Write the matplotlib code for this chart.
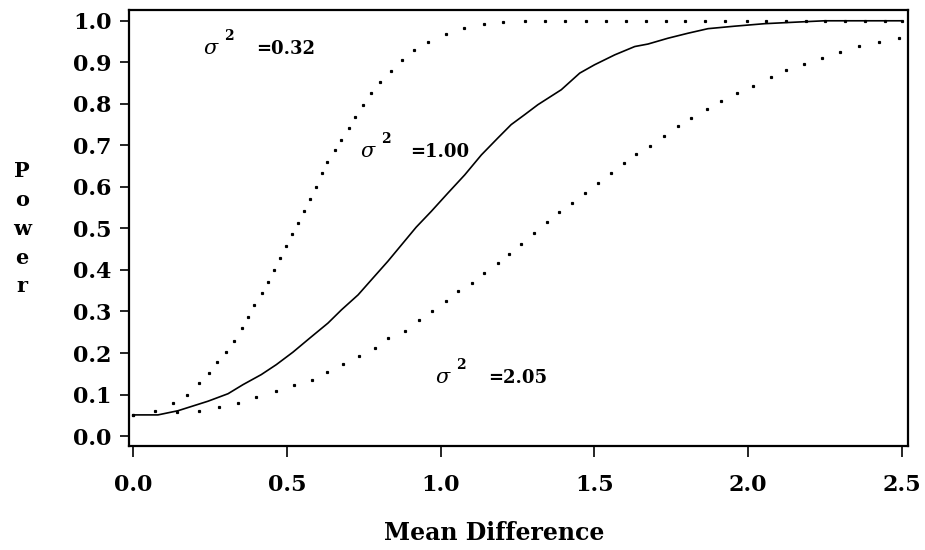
import numpy as np
import matplotlib
matplotlib.use("Agg")
import matplotlib.pyplot as plt

plt.rcParams['font.family'] = ['DejaVu Serif']
plt.rcParams['mathtext.fontset'] = 'dejavuserif'

# power curves, sigma^2 = 1.00 (solid)
x_s100 = [0.0, 0.080, 0.145, 0.243, 0.308, 0.357, 0.416, 0.465, 0.519, 0.574,
          0.633, 0.677, 0.731, 0.774, 0.828, 0.920, 0.969, 1.023, 1.078, 1.132,
          1.186, 1.229, 1.273, 1.316, 1.392, 1.452, 1.500, 1.566, 1.631, 1.674,
          1.739, 1.804, 1.869, 1.956, 2.053, 2.162, 2.248, 2.498]
p_s100 = [0.051, 0.051, 0.061, 0.084, 0.102, 0.124, 0.148, 0.172, 0.202, 0.236,
          0.272, 0.304, 0.340, 0.376, 0.421, 0.503, 0.541, 0.585, 0.629, 0.677,
          0.718, 0.750, 0.774, 0.798, 0.834, 0.874, 0.894, 0.918, 0.938, 0.944,
          0.958, 0.970, 0.981, 0.987, 0.993, 0.997, 1.000, 1.000]

# sigma^2 = 0.32 (dotted, steep)
x_s032 = [0.0, 0.070, 0.129, 0.175, 0.213, 0.245, 0.271, 0.302, 0.328, 0.353,
          0.374, 0.393, 0.419, 0.438, 0.458, 0.477, 0.497, 0.515, 0.535, 0.554,
          0.574, 0.593, 0.613, 0.631, 0.657, 0.676, 0.702, 0.722, 0.748, 0.773,
          0.801, 0.837, 0.875, 0.914, 0.959, 1.018, 1.076, 1.141, 1.202, 1.275,
          1.338, 1.403, 1.474, 1.539, 1.604, 1.669, 1.731, 1.796, 1.861, 1.925,
          1.995, 2.059, 2.122, 2.188, 2.250, 2.315, 2.380, 2.445, 2.500]
p_s032 = [0.050, 0.061, 0.080, 0.099, 0.127, 0.151, 0.178, 0.202, 0.230, 0.260,
          0.287, 0.315, 0.344, 0.372, 0.400, 0.429, 0.457, 0.486, 0.514, 0.542,
          0.571, 0.599, 0.633, 0.660, 0.689, 0.713, 0.741, 0.769, 0.798, 0.826,
          0.852, 0.878, 0.906, 0.930, 0.949, 0.968, 0.982, 0.992, 0.996, 1.000,
          1.000, 1.000, 1.000, 1.000, 1.000, 1.000, 1.000, 1.000, 1.000, 1.000,
          1.000, 1.000, 1.000, 1.000, 1.000, 1.000, 1.000, 1.000, 1.000]

# sigma^2 = 2.05 (dotted, shallow)
x_s205 = [0.0, 0.143, 0.213, 0.278, 0.341, 0.400, 0.464, 0.522, 0.580, 0.631,
          0.683, 0.735, 0.786, 0.828, 0.883, 0.928, 0.972, 1.018, 1.056, 1.101,
          1.141, 1.185, 1.223, 1.262, 1.303, 1.345, 1.384, 1.428, 1.468, 1.511,
          1.553, 1.596, 1.635, 1.681, 1.725, 1.771, 1.815, 1.867, 1.912, 1.963,
          2.015, 2.073, 2.124, 2.182, 2.240, 2.300, 2.362, 2.427, 2.491]
p_s205 = [0.050, 0.057, 0.061, 0.070, 0.080, 0.094, 0.108, 0.122, 0.136, 0.155,
          0.174, 0.193, 0.212, 0.236, 0.254, 0.279, 0.302, 0.326, 0.349, 0.368,
          0.392, 0.416, 0.439, 0.463, 0.489, 0.515, 0.539, 0.562, 0.585, 0.609,
          0.633, 0.657, 0.680, 0.698, 0.722, 0.746, 0.765, 0.788, 0.807, 0.825,
          0.844, 0.864, 0.882, 0.896, 0.910, 0.925, 0.939, 0.949, 0.958]

# curve labels: sigma position, "=value" position, text
lab_text = ["=0.32", "=1.00", "=2.05"]
lab_sig_x = [0.227, 0.737, 0.981]
lab_eq_x = [0.399, 0.900, 1.153]
lab_y = [0.920, 0.672, 0.128]

x_ticks = [0.0, 0.5, 1.0, 1.5, 2.0, 2.5]
y_ticks = [0.0, 0.1, 0.2, 0.3, 0.4, 0.5, 0.6, 0.7, 0.8, 0.9, 1.0]

fig = plt.figure(figsize=(9.25, 5.5), dpi=100)
ax = fig.add_axes([0.1395, 0.189, 0.8422, 0.7936])

ax.plot(x_s100, p_s100, color='black', lw=1.2)
ax.plot(x_s032, p_s032, ls='none', marker='s', ms=1.3, color='black')
ax.plot(x_s205, p_s205, ls='none', marker='s', ms=1.3, color='black')

for t, xs, xe, y in zip(lab_text, lab_sig_x, lab_eq_x, lab_y):
    ax.text(xs, y, r"$\sigma$", fontsize=15, ha='left', va='baseline')
    ax.text(xs + 0.085, y + 0.033, "2", fontsize=10, fontweight='bold',
            ha='center', va='baseline')
    ax.text(xe, y, t, fontsize=13, fontweight='bold', ha='left', va='baseline')

ax.set_xlim(-0.014, 2.52)
ax.set_ylim(-0.024, 1.027)
ax.set_xticks(x_ticks)
ax.set_yticks(y_ticks)
ax.set_xticklabels([f"{v:.1f}" for v in x_ticks])
ax.set_yticklabels([f"{v:.1f}" for v in y_ticks])
ax.tick_params(axis='both', labelsize=16, width=1.2, color='black')
ax.tick_params(axis='x', length=8, pad=12)
ax.tick_params(axis='y', length=6.5, pad=6)
for lab in ax.get_xticklabels() + ax.get_yticklabels():
    lab.set_fontweight('bold')
for sp in ax.spines.values():
    sp.set_linewidth(1.6)

fig.text(494 / 925, 1 - 533 / 550, "Mean Difference", fontsize=17,
         fontweight='bold', ha='center', va='center')
fig.text(0.024, 0.584, "\n".join("Power"), fontsize=15, fontweight='bold',
         ha='center', va='center', linespacing=1.55)

fig.savefig("out.png", dpi=100)
